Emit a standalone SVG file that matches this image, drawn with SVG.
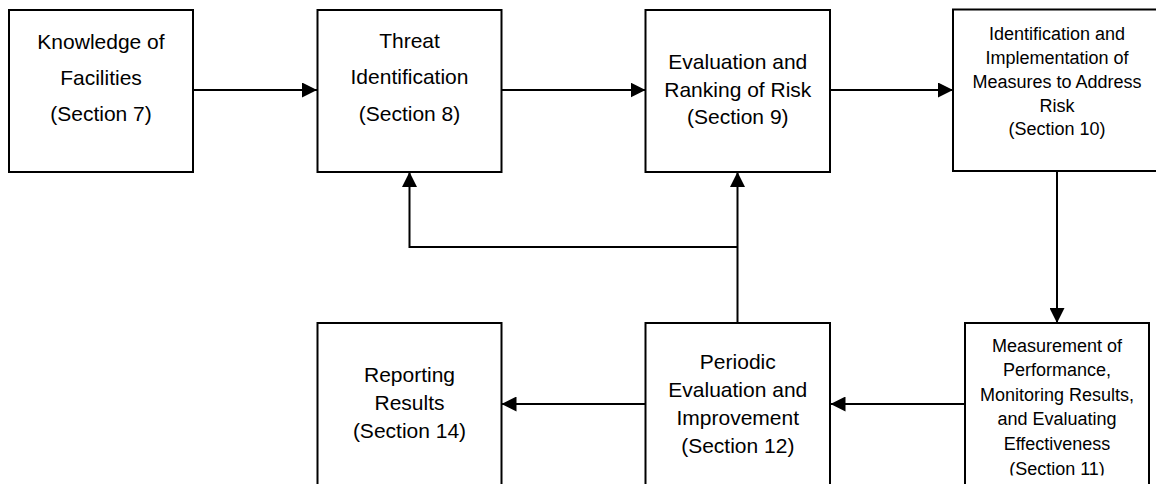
<svg xmlns="http://www.w3.org/2000/svg" width="1156" height="484" viewBox="0 0 1156 484">
<style>
.box{fill:#fff;stroke:#000;stroke-width:2}
.con{fill:none;stroke:#000;stroke-width:2}
text{font-family:"Liberation Sans",Arial,sans-serif;fill:#000;text-anchor:middle}
.big{font-size:21px}
.small{font-size:18px}
</style>
<defs>
<marker id="ah" viewBox="0 0 15 15" refX="15" refY="7.5" markerWidth="15" markerHeight="15" markerUnits="userSpaceOnUse" orient="auto">
<path d="M0,0 L15,7.5 L0,15 Z" fill="#000"/>
</marker>
<clipPath id="cutBottom">
<rect x="0" y="0" width="1156" height="475.5"/>
</clipPath>
</defs>
<rect width="1156" height="484" fill="#fff"/>
<g id="connectors">
<line class="con" x1="193" y1="90" x2="317" y2="90" marker-end="url(#ah)"/>
<line class="con" x1="501.5" y1="90" x2="645.5" y2="90" marker-end="url(#ah)"/>
<line class="con" x1="830" y1="90" x2="953" y2="90" marker-end="url(#ah)"/>
<line class="con" x1="1057" y1="171" x2="1057" y2="323" marker-end="url(#ah)"/>
<line class="con" x1="965" y1="404" x2="830.5" y2="404" marker-end="url(#ah)"/>
<line class="con" x1="645.5" y1="404" x2="501.5" y2="404" marker-end="url(#ah)"/>
<line class="con" x1="737.5" y1="323" x2="737.5" y2="172" marker-end="url(#ah)"/>
<polyline class="con" points="737.5,247 409.5,247 409.5,172" marker-end="url(#ah)"/>
</g>
<g id="node-knowledge">
<rect class="box" x="9" y="10" width="184" height="162"/>
<text class="big" x="101" y="48.5">Knowledge of</text>
<text class="big" x="101" y="84.5">Facilities</text>
<text class="big" x="101" y="120.5">(Section 7)</text>
</g>
<g id="node-threat">
<rect class="box" x="317.5" y="10" width="184" height="162"/>
<text class="big" x="409.5" y="48">Threat</text>
<text class="big" x="409.5" y="84">Identification</text>
<text class="big" x="409.5" y="120.5">(Section 8)</text>
</g>
<g id="node-evaluation">
<rect class="box" x="645.5" y="10" width="184.5" height="162"/>
<text class="big" x="737.8" y="68.5">Evaluation and</text>
<text class="big" x="737.8" y="96.5">Ranking of Risk</text>
<text class="big" x="737.8" y="123.5">(Section 9)</text>
</g>
<g id="node-measures">
<rect class="box" x="953" y="9.5" width="210" height="161.5"/>
<text class="small" x="1057" y="39.5">Identification and</text>
<text class="small" x="1057" y="63.5">Implementation of</text>
<text class="small" x="1057" y="87.5">Measures to Address</text>
<text class="small" x="1057" y="111.5">Risk</text>
<text class="small" x="1057" y="134.5">(Section 10)</text>
</g>
<g id="node-reporting">
<rect class="box" x="317.5" y="323" width="184" height="200"/>
<text class="big" x="409.5" y="382">Reporting</text>
<text class="big" x="409.5" y="410">Results</text>
<text class="big" x="409.5" y="437.5">(Section 14)</text>
</g>
<g id="node-periodic">
<rect class="box" x="645.5" y="323" width="184.5" height="200"/>
<text class="big" x="737.8" y="368.5">Periodic</text>
<text class="big" x="737.8" y="396.5">Evaluation and</text>
<text class="big" x="737.8" y="424.5">Improvement</text>
<text class="big" x="737.8" y="452.5">(Section 12)</text>
</g>
<g id="node-measurement">
<rect class="box" x="965" y="323" width="184" height="200"/>
<g clip-path="url(#cutBottom)">
<text class="small" x="1057" y="352">Measurement of</text>
<text class="small" x="1057" y="376.3">Performance,</text>
<text class="small" x="1057" y="400.6">Monitoring Results,</text>
<text class="small" x="1057" y="425">and Evaluating</text>
<text class="small" x="1057" y="449.8">Effectiveness</text>
<text class="small" x="1057" y="474.8">(Section 11)</text>
</g>
</g>
</svg>
